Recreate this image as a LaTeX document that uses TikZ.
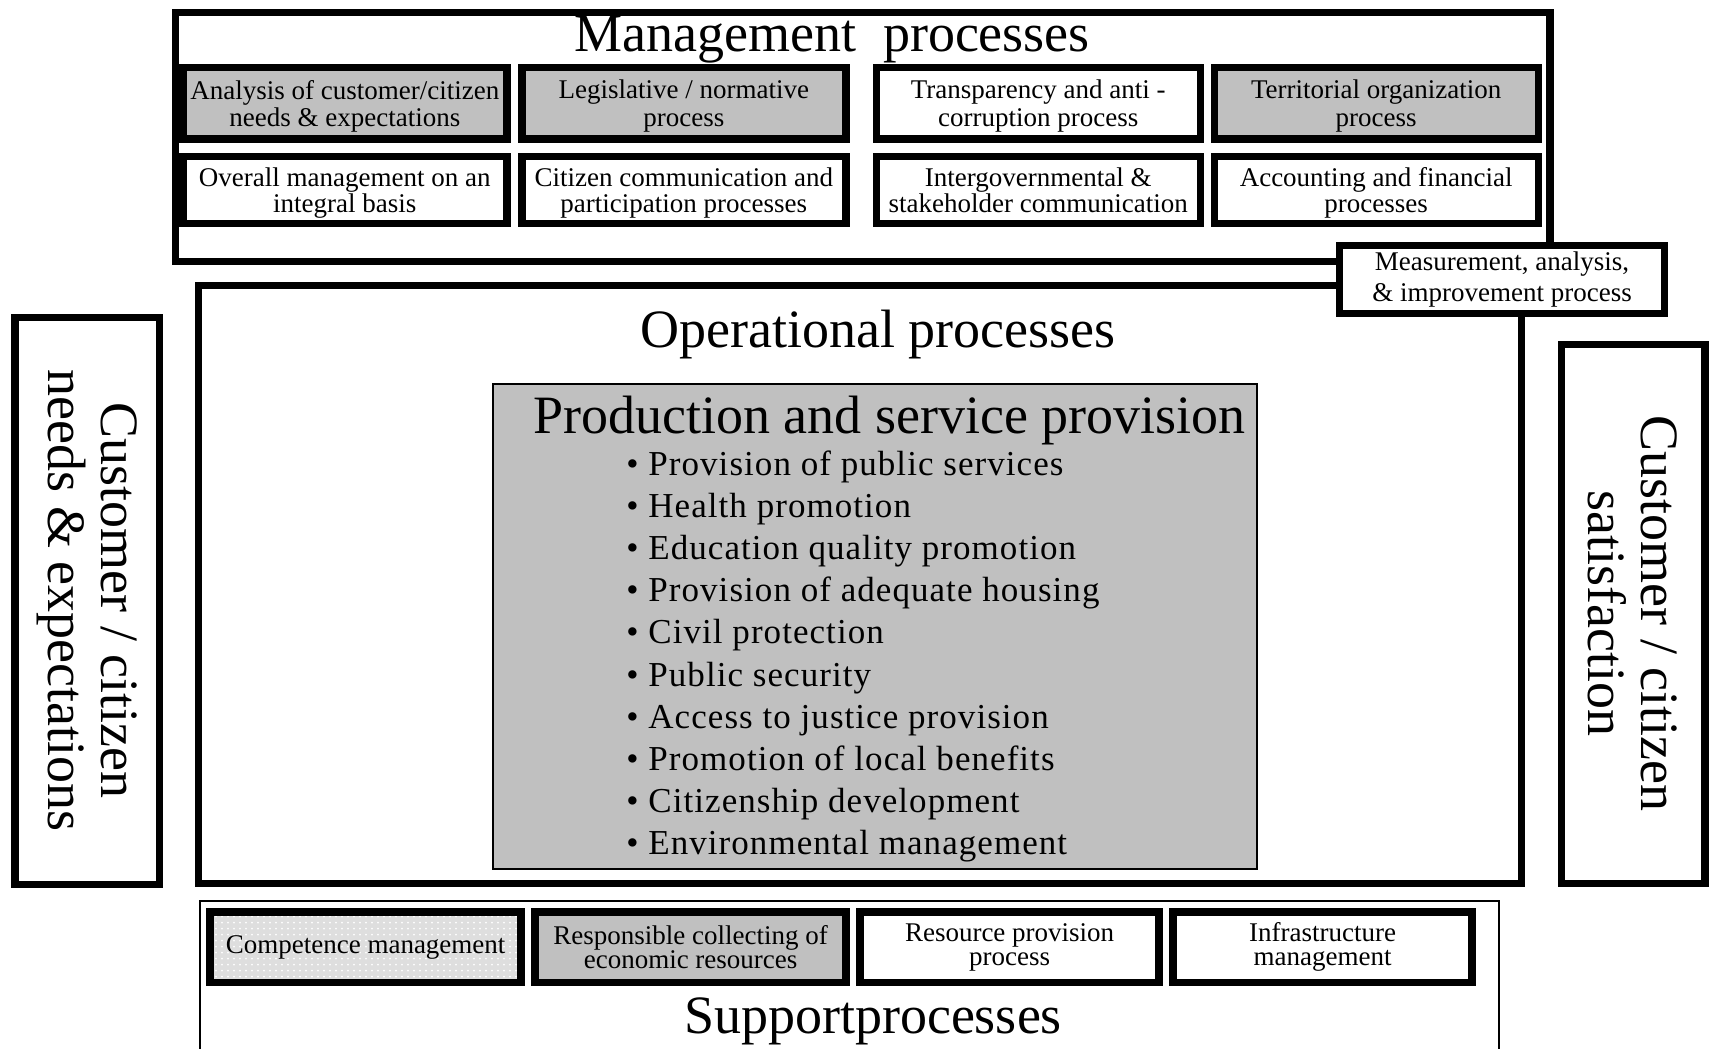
\documentclass[tikz,border=0pt]{standalone}
\usepackage{fontspec}
\setmainfont{Liberation Serif}
\newfontfamily\listfont{Liberation Serif}[LetterSpace=3]
\usepackage{tikz}
\usetikzlibrary{positioning, patterns}
\definecolor{boxgrey}{RGB}{192,192,192}
\definecolor{dotgrey}{RGB}{222,222,222}
\tikzstyle{frame} = [rectangle, draw=black, line width=3.7pt, inner sep=0pt, align=center]
\tikzstyle{thinframe} = [rectangle, draw=black, line width=1pt, inner sep=0pt]
\tikzstyle{title} = [font=\fontsize{27}{30}\selectfont, inner sep=0pt, anchor=base]
\tikzstyle{sidebox} = [frame, rotate=-90, font=\fontsize{27}{26.5}\selectfont]
\tikzstyle{mgmtbox} = [frame, minimum width=162pt, minimum height=35.8pt, text depth=-1pt, font=\fontsize{13.5}{13.6}\selectfont]
\tikzstyle{mgmtbox2} = [mgmtbox, minimum height=33.6pt, font=\fontsize{13.5}{13.1}\selectfont]
\tikzstyle{supbox} = [frame, minimum width=155.5pt, minimum height=35.2pt, font=\fontsize{13.5}{12}\selectfont]

\begin{document}
\begin{tikzpicture}[x=1pt, y=1pt]
    \useasboundingbox (0,0) rectangle (855.5,-524.3);

    \node (mgmt) [frame, minimum width=687.2pt, minimum height=124.2pt] at (431.3,-68.5) {};
    \node (mgmttitle) [title] at (416,-25.6) {Management\ \ processes};

    \node (needs) [mgmtbox, fill=boxgrey] at (172.4,-51.6) {Analysis of customer/citizen\\needs \& expectations};
    \node (legis) [mgmtbox, fill=boxgrey, right=3.8pt of needs] {Legislative / normative\\process};
    \node (transp) [mgmtbox, right=11.5pt of legis] {Transparency and anti -\\corruption process};
    \node (territ) [mgmtbox, fill=boxgrey, right=3.3pt of transp] {Territorial organization\\process};

    \node (overall) [mgmtbox2, below=4.9pt of needs] {Overall management on an\\integral basis};
    \node (citcom) [mgmtbox2, below=4.9pt of legis] {Citizen communication and\\participation processes};
    \node (intergov) [mgmtbox2, below=4.9pt of transp] {Intergovernmental \&\\stakeholder communication};
    \node (account) [mgmtbox2, below=4.9pt of territ] {Accounting and financial\\processes};

    \node (oper) [frame, minimum width=661.6pt, minimum height=298.8pt] at (429.9,-292.2) {};
    \node (opertitle) [title] at (439,-173.5) {Operational processes};

    \node (measure) [frame, fill=white, minimum width=162.4pt, minimum height=34.1pt, font=\fontsize{13.5}{15.3}\selectfont] at (751,-139.65) {Measurement, analysis,\\\& improvement process};

    \node (prod) [thinframe, fill=boxgrey, minimum width=381.9pt, minimum height=242.2pt] at (437.6,-313.2) {};
    \node (prodtitle) [title] at (444.7,-216.6) {Production and service provision};
    \node (services) [anchor=north west, align=left, inner sep=0pt, font=\listfont\fontsize{17.5}{21.1}\selectfont] at (313,-225) {\textbullet\ Provision of public services\\
        \textbullet\ Health promotion\\
        \textbullet\ Education quality promotion\\
        \textbullet\ Provision of adequate housing\\
        \textbullet\ Civil protection\\
        \textbullet\ Public security\\
        \textbullet\ Access to justice provision\\
        \textbullet\ Promotion of local benefits\\
        \textbullet\ Citizenship development\\
        \textbullet\ Environmental management};

    \node (custneeds) [sidebox, minimum width=283.5pt, minimum height=72.3pt] at (43.65,-300.35) {Customer / citizen\\needs \& expectations};
    \node (custsat) [sidebox, minimum width=269.4pt, minimum height=71.8pt] at (816.5,-306.9) {Customer / citizen\\satisfaction};

    \node (support) [minimum width=648.7pt, minimum height=73.6pt, inner sep=0pt] at (424.75,-487.5) {};
    \draw [line width=1pt] (support.south west) -- (support.north west) -- (support.north east) -- (support.south east);
    \node (supporttitle) [title] at (436.5,-516.7) {Supportprocesses};

    \node (compet) [supbox, preaction={fill=dotgrey}, pattern=dots, pattern color=white] at (182.8,-473.6) {Competence management};
    \node (collect) [supbox, fill=boxgrey, right=3.3pt of compet] {Responsible collecting of\\economic resources};
    \node (resource) [supbox, minimum width=149.5pt, right=3.3pt of collect] {Resource provision\\process};
    \node (infra) [supbox, minimum width=149.5pt, right=3.3pt of resource] {Infrastructure\\management};
\end{tikzpicture}
\end{document}
